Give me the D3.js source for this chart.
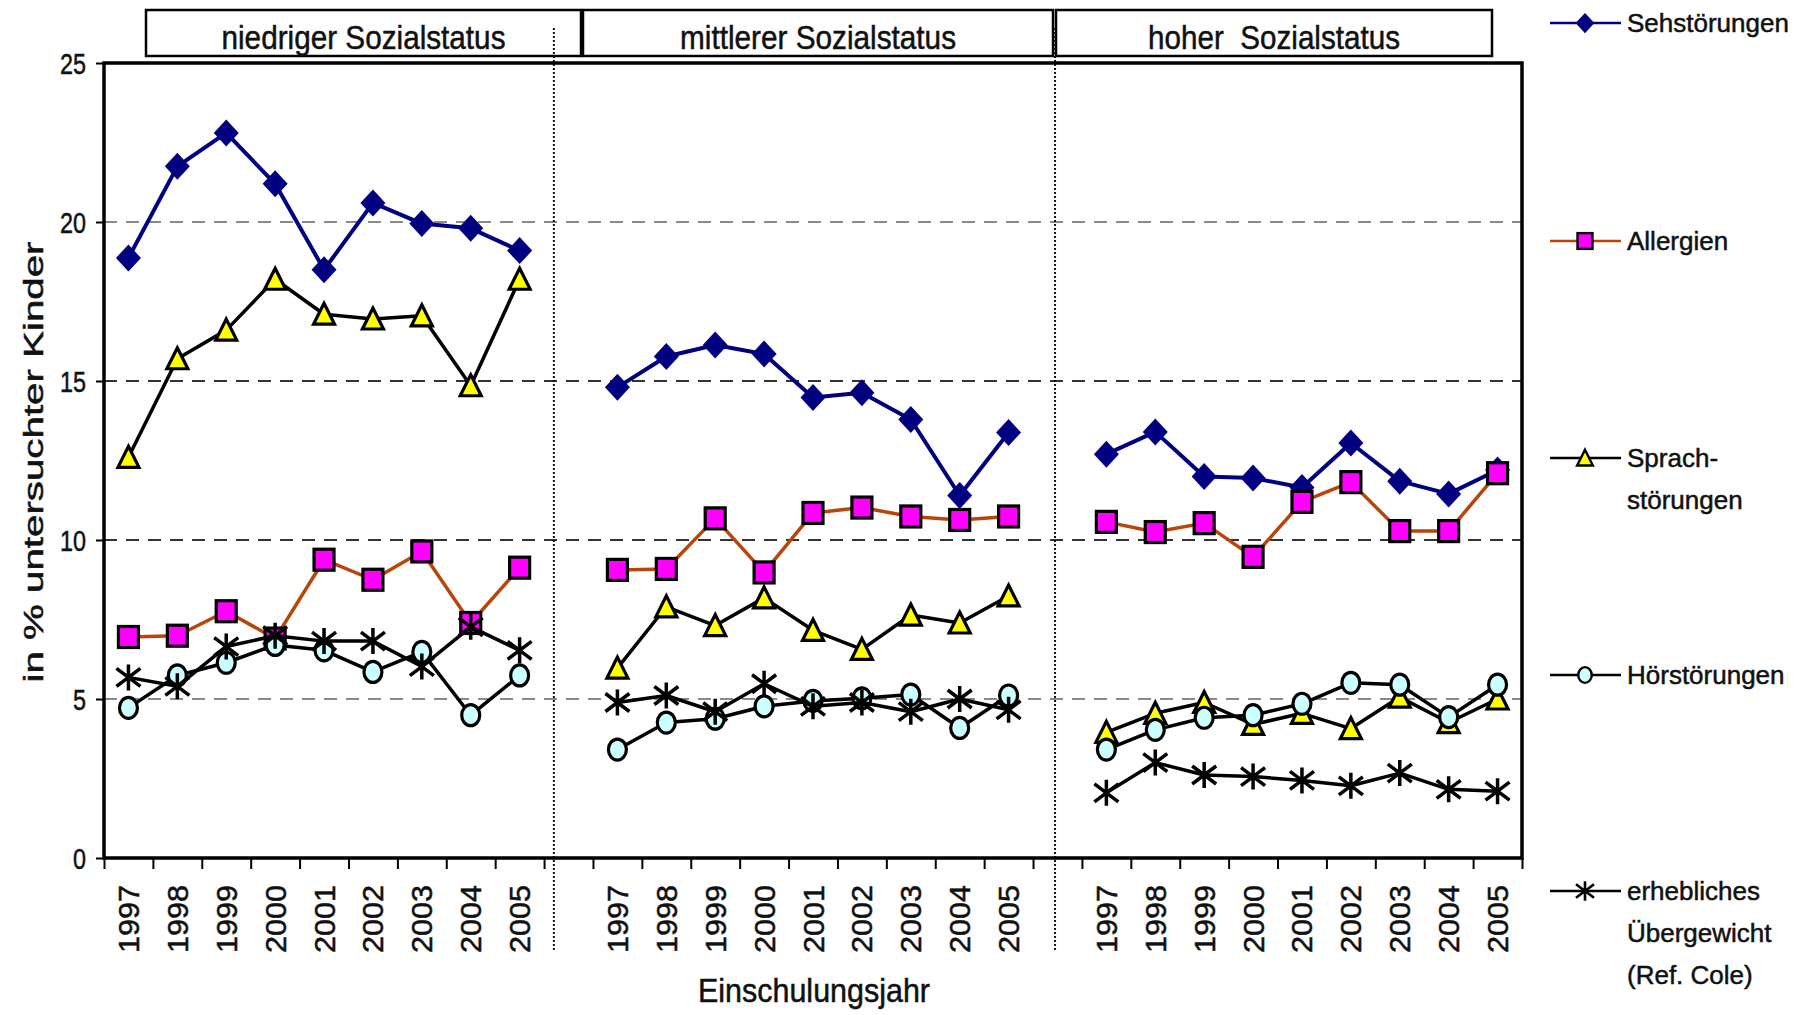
<!DOCTYPE html>
<html><head><meta charset="utf-8">
<script src="https://cdn.jsdelivr.net/npm/d3@7"></script>
<style>
body{margin:0;background:#fff}
svg{display:block}
text{font-family:"Liberation Sans",Arial,Helvetica,sans-serif;fill:#111;stroke:#111;stroke-width:0.5px;white-space:pre}
</style>
</head><body>
<svg id="c" width="1803" height="1015"></svg>
<script>
// ---------- data ----------
const years = ["1997","1998","1999","2000","2001","2002","2003","2004","2005"];
const panels = ["niedriger Sozialstatus","mittlerer Sozialstatus","hoher  Sozialstatus"];
const yTicks = [0,5,10,15,20,25];
const seriesNames = ["Sehstörungen","Allergien","Sprach-|störungen","Hörstörungen","erhebliches|Übergewicht|(Ref. Cole)"];
const sehstoerungen = [
  [18.87,21.75,22.8,21.2,18.5,20.6,19.95,19.8,19.1],
  [14.8,15.77,16.13,15.85,14.48,14.63,13.79,11.4,13.38],
  [12.7,13.4,12.0,11.95,11.65,13.05,11.85,11.45,12.2]];
const allergien = [
  [6.95,6.99,7.76,6.9,9.38,8.75,9.64,7.39,9.13],
  [9.06,9.09,10.68,8.98,10.85,11.02,10.74,10.63,10.74],
  [10.57,10.25,10.53,9.47,11.2,11.82,10.28,10.28,12.1]];
const sprachstoerungen = [
  [12.6,15.7,16.6,18.2,17.1,16.95,17.05,14.85,18.2],
  [5.97,7.9,7.31,8.18,7.16,6.56,7.64,7.39,8.24],
  [3.95,4.55,4.89,4.2,4.55,4.07,5.06,4.26,5.0]];
const hoerstoerungen = [
  [4.72,5.74,6.14,6.7,6.53,5.85,6.48,4.49,5.74],
  [3.41,4.26,4.38,4.77,4.94,5.02,5.14,4.09,5.11],
  [3.41,4.03,4.41,4.49,4.85,5.51,5.45,4.43,5.45]];
const uebergewicht = [
  [5.68,5.4,6.65,6.99,6.82,6.82,6.02,7.27,6.53],
  [4.89,5.11,4.6,5.48,4.77,4.89,4.6,5.0,4.66],
  [2.05,3.0,2.61,2.56,2.44,2.27,2.67,2.16,2.1]];

// ---------- layout ----------
const L = 104, R = 1522, T = 63, B = 858;
const svg = d3.select("#c");

const slots = [];
panels.forEach((p, pi) => {
  years.forEach(y => slots.push(pi + "-" + y));
  if (pi < panels.length - 1) slots.push("gap" + pi);
});
const x = d3.scaleBand().domain(slots).range([L, R]).paddingInner(0).paddingOuter(0);
const bw = x.bandwidth();
const cx = (pi, yi) => x(pi + "-" + years[yi]) + bw / 2;
const y = d3.scaleLinear().domain([0, 25]).range([B, T]);

// gridlines
const gridColor = {5:"#8a8a8a",10:"#333",15:"#333",20:"#8a8a8a"};
svg.append("g").selectAll("line").data(yTicks.filter(t => t > 0 && t < 25)).join("line")
  .attr("x1", L).attr("x2", R).attr("y1", d => y(d)).attr("y2", d => y(d))
  .attr("stroke", d => gridColor[d]).attr("stroke-width", 2).attr("stroke-dasharray", "13,9");

// header boxes
const boxes = [[146,581],[583,1053],[1056,1492]];
const headW = [284,276,252];
const hg = svg.append("g");
panels.forEach((p, i) => {
  hg.append("rect").attr("x", boxes[i][0]).attr("y", 10).attr("width", boxes[i][1]-boxes[i][0]).attr("height", 46)
    .attr("fill", "#fff").attr("stroke", "#000").attr("stroke-width", 2.5);
  hg.append("text").attr("x", (boxes[i][0]+boxes[i][1])/2).attr("y", 49).attr("text-anchor","middle")
    .attr("font-size", 33).attr("textLength", headW[i]).attr("lengthAdjust","spacingAndGlyphs").text(p);
});

// dotted dividers
const divX = [x("gap0") + bw*0.2, x("gap1") + bw*0.45];
svg.append("g").selectAll("line").data(divX).join("line")
  .attr("x1", d => d).attr("x2", d => d).attr("y1", 28).attr("y2", 952)
  .attr("stroke", "#111").attr("stroke-width", 2).attr("stroke-dasharray", "2,2");

// plot frame
svg.append("rect").attr("x", L).attr("y", T).attr("width", R-L).attr("height", B-T)
  .attr("fill", "none").attr("stroke", "#000").attr("stroke-width", 3.5);

// x ticks at category boundaries
const xi = d3.scaleLinear().domain([0, slots.length]).range([L, R]);
svg.append("g").attr("transform", `translate(0,${B})`)
  .call(d3.axisBottom(xi).tickValues(d3.range(0, slots.length + 1)).tickSize(11).tickFormat(""))
  .call(g => { g.select(".domain").remove(); g.selectAll("line").attr("stroke","#000").attr("stroke-width",2); });

// y axis
svg.append("g").attr("transform", `translate(${L},0)`)
  .call(d3.axisLeft(y).tickValues(yTicks).tickSize(8).tickPadding(0))
  .call(g => {
    g.select(".domain").remove();
    g.selectAll("line").attr("stroke","#000").attr("stroke-width",2);
    g.selectAll("text").attr("x", 0).attr("dy", null)
      .attr("y", 10.5).attr("transform", "translate(-18,0) scale(0.78,1)")
      .attr("font-size", 30).attr("fill", "#111").style("font-family", '"Liberation Sans",Arial,sans-serif');
  });

// year labels
const yl = svg.append("g");
panels.forEach((p, pi) => years.forEach((yr, yi) => {
  const px = cx(pi, yi) + 10.5, py = 885;
  yl.append("text").attr("transform", `translate(${px},${py}) rotate(-90)`).attr("text-anchor", "end")
    .attr("font-size", 29).attr("textLength", 68).attr("lengthAdjust","spacingAndGlyphs").text(yr);
}));

// axis titles
svg.append("text").attr("x", 814).attr("y", 1002).attr("text-anchor","middle").attr("font-size", 33)
  .attr("textLength", 232).attr("lengthAdjust","spacingAndGlyphs").text("Einschulungsjahr");
svg.append("text").attr("transform", "translate(43,462) rotate(-90)").attr("text-anchor","middle").attr("font-size", 27)
  .attr("textLength", 441).attr("lengthAdjust","spacingAndGlyphs").text("in % untersuchter Kinder");

// ---------- markers ----------
function drawMarker(g, kind, s) {
  s = s || 1;
  if (kind === "diamond") {
    g.append("path").attr("d", `M0,${-13.5*s}L${12.5*s},0L0,${13.5*s}L${-12.5*s},0Z`).attr("fill", "#000080");
  } else if (kind === "square") {
    g.append("rect").attr("x", -10*s).attr("y", -10.5*s).attr("width", 20*s).attr("height", 21*s)
      .attr("fill", "#ff00ff").attr("stroke", "#000").attr("stroke-width", 3.2*s);
  } else if (kind === "triangle") {
    g.append("path").attr("d", `M0,${-11*s}L${10.5*s},${10*s}L${-10.5*s},${10*s}Z`)
      .attr("fill", "#ffff00").attr("stroke", "#000").attr("stroke-width", 3.2*s).attr("stroke-linejoin","miter");
  } else if (kind === "circle") {
    g.append("ellipse").attr("rx", 9*s).attr("ry", 10.5*s).attr("fill", "#ccffff").attr("stroke", "#000").attr("stroke-width", 3.2*s);
  } else if (kind === "star") {
    const a = 13*s, b = 12*s, c = 9*s;
    g.append("path").attr("d", `M0,${-a}L0,${a}M${-b},${-c}L${b},${c}M${-b},${c}L${b},${-c}`)
      .attr("stroke", "#000").attr("stroke-width", 3.5*s).attr("fill","none");
  }
}

const series = [
  {data: sehstoerungen, color: "#000080", w: 4, marker: "diamond"},
  {data: allergien, color: "#b8460b", w: 3.5, marker: "square"},
  {data: sprachstoerungen, color: "#000", w: 3.5, marker: "triangle"},
  {data: hoerstoerungen, color: "#000", w: 3.5, marker: "circle"},
  {data: uebergewicht, color: "#000", w: 3.5, marker: "star"}
];

const line = d3.line().x(d => d[0]).y(d => d[1]);
series.forEach(s => {
  const g = svg.append("g");
  s.data.forEach((vals, pi) => {
    const pts = vals.map((v, yi) => [cx(pi, yi), y(v)]);
    g.append("path").attr("d", line(pts)).attr("fill", "none").attr("stroke", s.color).attr("stroke-width", s.w)
      .attr("stroke-linejoin", "round");
    pts.forEach(p => drawMarker(g.append("g").attr("transform", `translate(${p[0]},${p[1]})`), s.marker));
  });
});

// ---------- legend ----------
const legY = [23, 241, 458, 675, 891];
const lg = svg.append("g");
series.forEach((s, i) => {
  lg.append("line").attr("x1", 1550).attr("x2", 1621).attr("y1", legY[i]).attr("y2", legY[i])
    .attr("stroke", s.color).attr("stroke-width", 2.5);
  drawMarker(lg.append("g").attr("transform", `translate(1585,${legY[i]})`), s.marker, 0.75);
  seriesNames[i].split("|").forEach((t, k) => {
    lg.append("text").attr("x", 1627).attr("y", legY[i] + 9 + k*42).attr("font-size", 26).text(t);
  });
});
</script>
</body></html>
